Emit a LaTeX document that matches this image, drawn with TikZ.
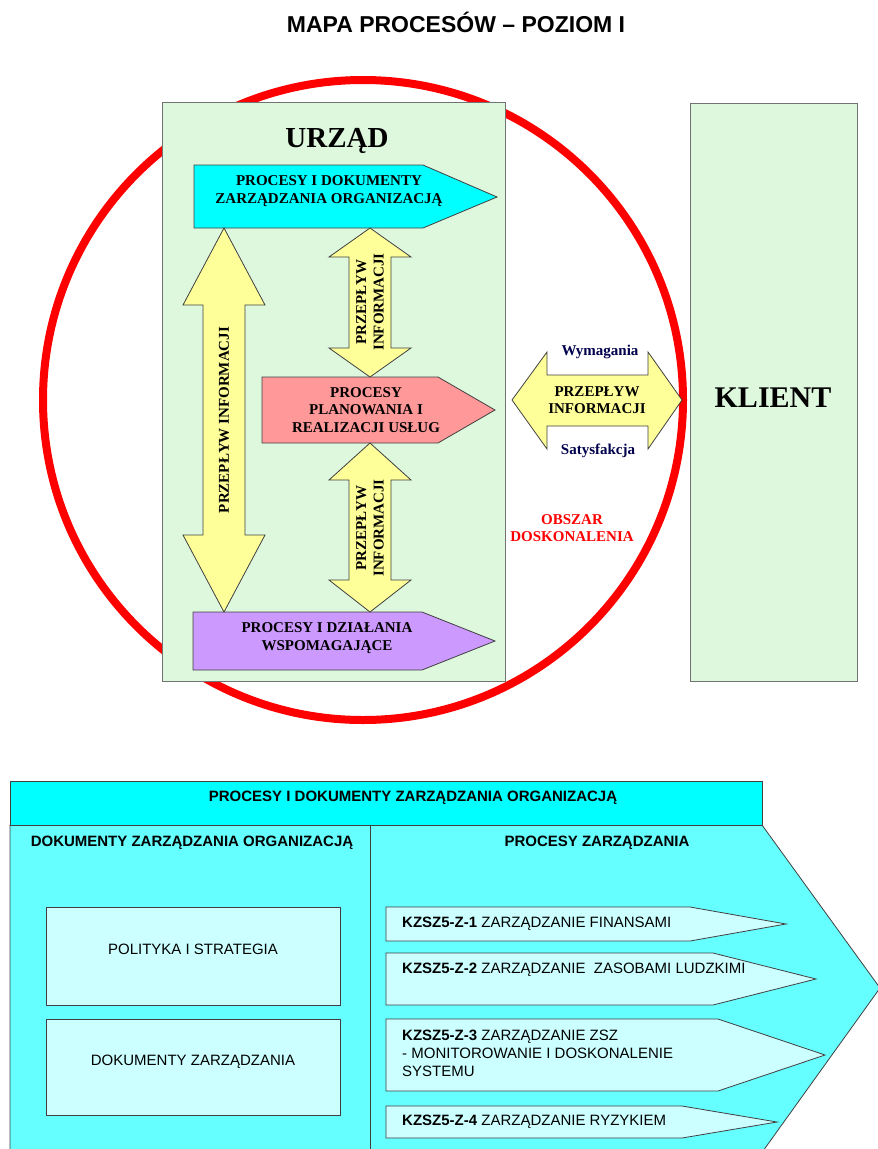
\documentclass[tikz,border=0pt]{standalone}
\usepackage{fontspec}
\setmainfont{Liberation Serif}
\setsansfont{Liberation Sans}
\usetikzlibrary{positioning}

\definecolor{urzgreen}{RGB}{222,248,222}
\definecolor{infoyellow}{RGB}{255,255,153}
\definecolor{zarcyan}{RGB}{0,255,255}
\definecolor{bodycyan}{RGB}{102,255,255}
\definecolor{boxcyan}{RGB}{204,255,255}
\definecolor{planpink}{RGB}{255,153,153}
\definecolor{wspviolet}{RGB}{204,153,255}

\begin{document}
\begin{tikzpicture}[
    x=1pt, y=-1pt,
    outline/.style={draw=black!75, line width=0.8pt},
    panel/.style={draw=black!55, line width=1pt, fill=urzgreen},
    serifb/.style={font=\bfseries\fontsize{15}{17.5}\selectfont, align=center},
    sansb/.style={font=\sffamily\bfseries\fontsize{15}{17}\selectfont},
    sansr/.style={font=\sffamily\fontsize{15}{18}\selectfont},
    kzsz/.style={sansr, anchor=north west, align=left, inner sep=0pt}
]
\useasboundingbox (0,0) rectangle (878,1149);

\node[font=\sffamily\bfseries\fontsize{23}{25}\selectfont] (title) at (456,22) {MAPA PROCESÓW – POZIOM I};

% obszar doskonalenia
\draw[red, line width=8pt] (363,400) circle (320);

% urzad i klient
\draw[panel] (162,102) rectangle (505,681);
\draw[panel] (690,103) rectangle (857,681);
\node[font=\bfseries\fontsize{29}{31}\selectfont] (urzad) at (337,141) {URZĄD};
\node[font=\bfseries\fontsize{30}{32}\selectfont] (klient) at (773,398) {KLIENT};

% procesy
\draw[outline, fill=zarcyan] (194,165) -- (423,165) -- (497,197) -- (423,228) -- (194,228) -- cycle;
\node[serifb] (zarz) at (329,191) {PROCESY I DOKUMENTY\\ZARZĄDZANIA ORGANIZACJĄ};

\draw[outline, fill=planpink] (262,377) -- (438,377) -- (495,410) -- (438,443) -- (262,443) -- cycle;
\node[serifb] (plan) at (366,410) {PROCESY\\PLANOWANIA I\\REALIZACJI USŁUG};

\draw[outline, fill=wspviolet] (193,612) -- (422,612) -- (495,641) -- (422,670) -- (193,670) -- cycle;
\node[serifb] (wsp) at (327,638) {PROCESY I DZIAŁANIA\\WSPOMAGAJĄCE};

% przeplyw informacji
\draw[outline, fill=infoyellow] (224,228) -- (265,305) -- (245,305) -- (245,535) -- (265,535)
    -- (224,612) -- (183,535) -- (203,535) -- (203,305) -- (183,305) -- cycle;
\node[serifb, rotate=90] (info1) at (224,420) {PRZEPŁYW INFORMACJI};

\draw[outline, fill=infoyellow] (370,228) -- (411,257) -- (391,257) -- (391,348) -- (411,348)
    -- (370,377) -- (329,348) -- (349,348) -- (349,257) -- (329,257) -- cycle;
\node[serifb, rotate=90] (info2) at (370,302) {PRZEPŁYW\\INFORMACJI};

\draw[outline, fill=infoyellow] (370,443) -- (411,480) -- (391,480) -- (391,580) -- (411,580)
    -- (370,612) -- (329,580) -- (349,580) -- (349,480) -- (329,480) -- cycle;
\node[serifb, rotate=90] (info3) at (370,528) {PRZEPŁYW\\INFORMACJI};

\draw[outline, fill=infoyellow] (512,400) -- (547,352) -- (547,375) -- (648,375) -- (648,352)
    -- (682,400) -- (648,449) -- (648,426) -- (547,426) -- (547,449) -- cycle;
\node[serifb] (info4) at (597,400) {PRZEPŁYW\\INFORMACJI};
\node[serifb, text=blue!30!black] (wym) at (600,352) {Wymagania};
\node[serifb, text=blue!30!black] (sat) at (598,451) {Satysfakcja};
\node[serifb, text=red] (obszar) at (572,528) {OBSZAR\\DOSKONALENIA};

% procesy i dokumenty zarzadzania - rozwiniecie
\draw[outline, fill=bodycyan] (10,825) -- (762,825) -- (880,988) -- (763,1151) -- (10,1151) -- cycle;
\draw[outline] (370,825) -- (370,1151);
\draw[outline, fill=zarcyan] (10,781) rectangle (762,825);
\node[sansb] (naglowek) at (413,798) {PROCESY I DOKUMENTY ZARZĄDZANIA ORGANIZACJĄ};
\node[sansb] (dokzarz) at (192,843) {DOKUMENTY ZARZĄDZANIA ORGANIZACJĄ};
\node[sansb] (proczarz) at (597,843) {PROCESY ZARZĄDZANIA};

\draw[outline, fill=boxcyan] (46,907) rectangle (340,1005);
\node[sansr] (polityka) at (193,949) {POLITYKA I STRATEGIA};
\draw[outline, fill=boxcyan] (46,1019) rectangle (340,1115);
\node[sansr] (dokumenty) at (193,1062) {DOKUMENTY ZARZĄDZANIA};

\draw[outline, fill=boxcyan] (386,907) -- (690,907) -- (786,924) -- (690,941) -- (386,941) -- cycle;
\node[kzsz] (z1) at (402,917) {\textbf{KZSZ5-Z-1} ZARZĄDZANIE FINANSAMI};
\draw[outline, fill=boxcyan] (386,953) -- (713,953) -- (816,979) -- (713,1005) -- (386,1005) -- cycle;
\node[kzsz] (z2) at (402,963) {\textbf{KZSZ5-Z-2} ZARZĄDZANIE\ \ ZASOBAMI LUDZKIMI};
\draw[outline, fill=boxcyan] (386,1019) -- (718,1019) -- (825,1055) -- (718,1091) -- (386,1091) -- cycle;
\node[kzsz] (z3) at (402,1030) {\textbf{KZSZ5-Z-3} ZARZĄDZANIE ZSZ\\- MONITOROWANIE I DOSKONALENIE\\SYSTEMU};
\draw[outline, fill=boxcyan] (386,1106) -- (682,1106) -- (777,1122) -- (682,1138) -- (386,1138) -- cycle;
\node[kzsz] (z4) at (402,1115) {\textbf{KZSZ5-Z-4} ZARZĄDZANIE RYZYKIEM};

\end{tikzpicture}
\end{document}
